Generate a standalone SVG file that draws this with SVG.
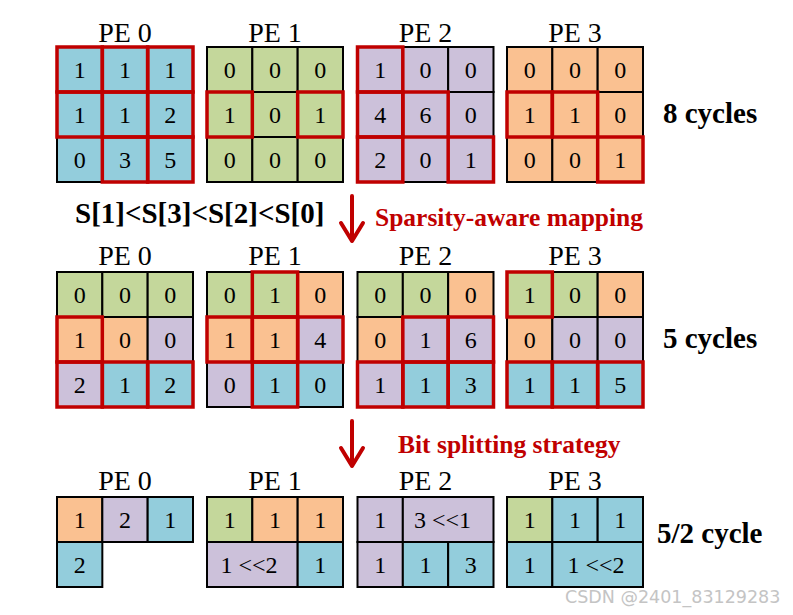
<svg xmlns="http://www.w3.org/2000/svg" width="793" height="615" viewBox="0 0 793 615">
<style>
.b{fill:#93CDDC}.g{fill:#C4D79B}.p{fill:#CCC1DA}.o{fill:#FAC191}
.cells rect{stroke:#000;stroke-width:2}
.r{fill:none;stroke:#C00000;stroke-width:3.5}
.n{font-family:"Liberation Serif","Times New Roman",serif;font-size:24px;text-anchor:middle;fill:#000}
.pe{font-family:"Liberation Serif","Times New Roman",serif;font-size:28px;text-anchor:middle;fill:#000}
.cy{font-family:"Liberation Serif","Times New Roman",serif;font-size:29px;font-weight:bold;fill:#000}
.rl{font-family:"Liberation Serif","Times New Roman",serif;font-size:25.5px;font-weight:bold;fill:#C00000}
.ar{fill:none;stroke:#C00000;stroke-width:4;stroke-linecap:round;stroke-linejoin:round}
.wm{font-family:"DejaVu Sans",sans-serif;font-size:17.5px;fill:#c4c4c4}
</style>
<rect width="793" height="615" fill="#fff"/>

<!-- Top row -->
<g id="top-pe0">
<text class="pe" x="125" y="42">PE 0</text>
<g class="cells">
<rect class="b" x="57" y="47" width="45.33" height="45"/><rect class="b" x="102.33" y="47" width="45.33" height="45"/><rect class="b" x="147.67" y="47" width="45.33" height="45"/>
<rect class="b" x="57" y="92" width="45.33" height="45"/><rect class="b" x="102.33" y="92" width="45.33" height="45"/><rect class="b" x="147.67" y="92" width="45.33" height="45"/>
<rect class="b" x="57" y="137" width="45.33" height="45"/><rect class="b" x="102.33" y="137" width="45.33" height="45"/><rect class="b" x="147.67" y="137" width="45.33" height="45"/>
</g>
<rect class="r" x="57" y="47" width="45.33" height="45"/><rect class="r" x="102.33" y="47" width="45.33" height="45"/><rect class="r" x="147.67" y="47" width="45.33" height="45"/>
<rect class="r" x="57" y="92" width="45.33" height="45"/><rect class="r" x="102.33" y="92" width="45.33" height="45"/><rect class="r" x="147.67" y="92" width="45.33" height="45"/>
<rect class="r" x="102.33" y="137" width="45.33" height="45"/><rect class="r" x="147.67" y="137" width="45.33" height="45"/>
<text class="n" x="79.7" y="78">1</text><text class="n" x="125" y="78">1</text><text class="n" x="170.3" y="78">1</text>
<text class="n" x="79.7" y="123">1</text><text class="n" x="125" y="123">1</text><text class="n" x="170.3" y="123">2</text>
<text class="n" x="79.7" y="168">0</text><text class="n" x="125" y="168">3</text><text class="n" x="170.3" y="168">5</text>
</g>

<g id="top-pe1">
<text class="pe" x="275" y="42">PE 1</text>
<g class="cells">
<rect class="g" x="207" y="47" width="45.33" height="45"/><rect class="g" x="252.33" y="47" width="45.33" height="45"/><rect class="g" x="297.67" y="47" width="45.33" height="45"/>
<rect class="g" x="207" y="92" width="45.33" height="45"/><rect class="g" x="252.33" y="92" width="45.33" height="45"/><rect class="g" x="297.67" y="92" width="45.33" height="45"/>
<rect class="g" x="207" y="137" width="45.33" height="45"/><rect class="g" x="252.33" y="137" width="45.33" height="45"/><rect class="g" x="297.67" y="137" width="45.33" height="45"/>
</g>
<rect class="r" x="207" y="92" width="45.33" height="45"/><rect class="r" x="297.67" y="92" width="45.33" height="45"/>
<text class="n" x="229.7" y="78">0</text><text class="n" x="275" y="78">0</text><text class="n" x="320.3" y="78">0</text>
<text class="n" x="229.7" y="123">1</text><text class="n" x="275" y="123">0</text><text class="n" x="320.3" y="123">1</text>
<text class="n" x="229.7" y="168">0</text><text class="n" x="275" y="168">0</text><text class="n" x="320.3" y="168">0</text>
</g>

<g id="top-pe2">
<text class="pe" x="425.5" y="42">PE 2</text>
<g class="cells">
<rect class="p" x="357.5" y="47" width="45.33" height="45"/><rect class="p" x="402.83" y="47" width="45.33" height="45"/><rect class="p" x="448.17" y="47" width="45.33" height="45"/>
<rect class="p" x="357.5" y="92" width="45.33" height="45"/><rect class="p" x="402.83" y="92" width="45.33" height="45"/><rect class="p" x="448.17" y="92" width="45.33" height="45"/>
<rect class="p" x="357.5" y="137" width="45.33" height="45"/><rect class="p" x="402.83" y="137" width="45.33" height="45"/><rect class="p" x="448.17" y="137" width="45.33" height="45"/>
</g>
<rect class="r" x="357.5" y="47" width="45.33" height="45"/><rect class="r" x="357.5" y="92" width="45.33" height="45"/><rect class="r" x="402.83" y="92" width="45.33" height="45"/>
<rect class="r" x="357.5" y="137" width="45.33" height="45"/><rect class="r" x="448.17" y="137" width="45.33" height="45"/>
<text class="n" x="380.2" y="78">1</text><text class="n" x="425.5" y="78">0</text><text class="n" x="470.8" y="78">0</text>
<text class="n" x="380.2" y="123">4</text><text class="n" x="425.5" y="123">6</text><text class="n" x="470.8" y="123">0</text>
<text class="n" x="380.2" y="168">2</text><text class="n" x="425.5" y="168">0</text><text class="n" x="470.8" y="168">1</text>
</g>

<g id="top-pe3">
<text class="pe" x="575" y="42">PE 3</text>
<g class="cells">
<rect class="o" x="507" y="47" width="45.33" height="45"/><rect class="o" x="552.33" y="47" width="45.33" height="45"/><rect class="o" x="597.67" y="47" width="45.33" height="45"/>
<rect class="o" x="507" y="92" width="45.33" height="45"/><rect class="o" x="552.33" y="92" width="45.33" height="45"/><rect class="o" x="597.67" y="92" width="45.33" height="45"/>
<rect class="o" x="507" y="137" width="45.33" height="45"/><rect class="o" x="552.33" y="137" width="45.33" height="45"/><rect class="o" x="597.67" y="137" width="45.33" height="45"/>
</g>
<rect class="r" x="507" y="92" width="45.33" height="45"/><rect class="r" x="552.33" y="92" width="45.33" height="45"/><rect class="r" x="597.67" y="137" width="45.33" height="45"/>
<text class="n" x="529.7" y="78">0</text><text class="n" x="575" y="78">0</text><text class="n" x="620.3" y="78">0</text>
<text class="n" x="529.7" y="123">1</text><text class="n" x="575" y="123">1</text><text class="n" x="620.3" y="123">0</text>
<text class="n" x="529.7" y="168">0</text><text class="n" x="575" y="168">0</text><text class="n" x="620.3" y="168">1</text>
</g>
<text class="cy" x="663" y="123">8 cycles</text>

<!-- Middle labels -->
<text class="cy" x="75" y="223">S[1]&lt;S[3]&lt;S[2]&lt;S[0]</text>
<text class="rl" x="375" y="226">Sparsity-aware mapping</text>

<!-- Middle row -->
<g id="mid-pe0">
<text class="pe" x="125" y="265">PE 0</text>
<g class="cells">
<rect class="g" x="57" y="272" width="45.33" height="45"/><rect class="g" x="102.33" y="272" width="45.33" height="45"/><rect class="g" x="147.67" y="272" width="45.33" height="45"/>
<rect class="o" x="57" y="317" width="45.33" height="45"/><rect class="o" x="102.33" y="317" width="45.33" height="45"/><rect class="p" x="147.67" y="317" width="45.33" height="45"/>
<rect class="p" x="57" y="362" width="45.33" height="45"/><rect class="b" x="102.33" y="362" width="45.33" height="45"/><rect class="b" x="147.67" y="362" width="45.33" height="45"/>
</g>
<rect class="r" x="57" y="317" width="45.33" height="45"/><rect class="r" x="57" y="362" width="45.33" height="45"/><rect class="r" x="102.33" y="362" width="45.33" height="45"/><rect class="r" x="147.67" y="362" width="45.33" height="45"/>
<text class="n" x="79.7" y="303">0</text><text class="n" x="125" y="303">0</text><text class="n" x="170.3" y="303">0</text>
<text class="n" x="79.7" y="348">1</text><text class="n" x="125" y="348">0</text><text class="n" x="170.3" y="348">0</text>
<text class="n" x="79.7" y="393">2</text><text class="n" x="125" y="393">1</text><text class="n" x="170.3" y="393">2</text>
</g>

<g id="mid-pe1">
<text class="pe" x="275" y="265">PE 1</text>
<g class="cells">
<rect class="g" x="207" y="272" width="45.33" height="45"/><rect class="g" x="252.33" y="272" width="45.33" height="45"/><rect class="o" x="297.67" y="272" width="45.33" height="45"/>
<rect class="o" x="207" y="317" width="45.33" height="45"/><rect class="o" x="252.33" y="317" width="45.33" height="45"/><rect class="p" x="297.67" y="317" width="45.33" height="45"/>
<rect class="p" x="207" y="362" width="45.33" height="45"/><rect class="b" x="252.33" y="362" width="45.33" height="45"/><rect class="b" x="297.67" y="362" width="45.33" height="45"/>
</g>
<rect class="r" x="252.33" y="272" width="45.33" height="45"/><rect class="r" x="207" y="317" width="45.33" height="45"/><rect class="r" x="252.33" y="317" width="45.33" height="45"/><rect class="r" x="297.67" y="317" width="45.33" height="45"/><rect class="r" x="252.33" y="362" width="45.33" height="45"/>
<text class="n" x="229.7" y="303">0</text><text class="n" x="275" y="303">1</text><text class="n" x="320.3" y="303">0</text>
<text class="n" x="229.7" y="348">1</text><text class="n" x="275" y="348">1</text><text class="n" x="320.3" y="348">4</text>
<text class="n" x="229.7" y="393">0</text><text class="n" x="275" y="393">1</text><text class="n" x="320.3" y="393">0</text>
</g>

<g id="mid-pe2">
<text class="pe" x="425.5" y="265">PE 2</text>
<g class="cells">
<rect class="g" x="357.5" y="272" width="45.33" height="45"/><rect class="g" x="402.83" y="272" width="45.33" height="45"/><rect class="o" x="448.17" y="272" width="45.33" height="45"/>
<rect class="o" x="357.5" y="317" width="45.33" height="45"/><rect class="p" x="402.83" y="317" width="45.33" height="45"/><rect class="p" x="448.17" y="317" width="45.33" height="45"/>
<rect class="p" x="357.5" y="362" width="45.33" height="45"/><rect class="b" x="402.83" y="362" width="45.33" height="45"/><rect class="b" x="448.17" y="362" width="45.33" height="45"/>
</g>
<rect class="r" x="402.83" y="317" width="45.33" height="45"/><rect class="r" x="448.17" y="317" width="45.33" height="45"/><rect class="r" x="357.5" y="362" width="45.33" height="45"/><rect class="r" x="402.83" y="362" width="45.33" height="45"/><rect class="r" x="448.17" y="362" width="45.33" height="45"/>
<text class="n" x="380.2" y="303">0</text><text class="n" x="425.5" y="303">0</text><text class="n" x="470.8" y="303">0</text>
<text class="n" x="380.2" y="348">0</text><text class="n" x="425.5" y="348">1</text><text class="n" x="470.8" y="348">6</text>
<text class="n" x="380.2" y="393">1</text><text class="n" x="425.5" y="393">1</text><text class="n" x="470.8" y="393">3</text>
</g>

<g id="mid-pe3">
<text class="pe" x="575" y="265">PE 3</text>
<g class="cells">
<rect class="g" x="507" y="272" width="45.33" height="45"/><rect class="g" x="552.33" y="272" width="45.33" height="45"/><rect class="o" x="597.67" y="272" width="45.33" height="45"/>
<rect class="o" x="507" y="317" width="45.33" height="45"/><rect class="p" x="552.33" y="317" width="45.33" height="45"/><rect class="p" x="597.67" y="317" width="45.33" height="45"/>
<rect class="b" x="507" y="362" width="45.33" height="45"/><rect class="b" x="552.33" y="362" width="45.33" height="45"/><rect class="b" x="597.67" y="362" width="45.33" height="45"/>
</g>
<rect class="r" x="507" y="272" width="45.33" height="45"/><rect class="r" x="507" y="362" width="45.33" height="45"/><rect class="r" x="552.33" y="362" width="45.33" height="45"/><rect class="r" x="597.67" y="362" width="45.33" height="45"/>
<text class="n" x="529.7" y="303">1</text><text class="n" x="575" y="303">0</text><text class="n" x="620.3" y="303">0</text>
<text class="n" x="529.7" y="348">0</text><text class="n" x="575" y="348">0</text><text class="n" x="620.3" y="348">0</text>
<text class="n" x="529.7" y="393">1</text><text class="n" x="575" y="393">1</text><text class="n" x="620.3" y="393">5</text>
</g>
<text class="cy" x="663" y="348">5 cycles</text>

<text class="rl" x="398" y="453">Bit splitting strategy</text>

<!-- Bottom row -->
<g id="bot-pe0">
<text class="pe" x="125" y="490">PE 0</text>
<g class="cells">
<rect class="o" x="57" y="497" width="45.33" height="45"/><rect class="p" x="102.33" y="497" width="45.33" height="45"/><rect class="b" x="147.67" y="497" width="45.33" height="45"/>
<rect class="b" x="57" y="542" width="45.33" height="45"/>
</g>
<text class="n" x="79.7" y="528">1</text><text class="n" x="125" y="528">2</text><text class="n" x="170.3" y="528">1</text>
<text class="n" x="79.7" y="573">2</text>
</g>

<g id="bot-pe1">
<text class="pe" x="275" y="490">PE 1</text>
<g class="cells">
<rect class="g" x="207" y="497" width="45.33" height="45"/><rect class="o" x="252.33" y="497" width="45.33" height="45"/><rect class="o" x="297.67" y="497" width="45.33" height="45"/>
<rect class="p" x="207" y="542" width="90.67" height="45"/><rect class="b" x="297.67" y="542" width="45.33" height="45"/>
</g>
<text class="n" x="229.7" y="528">1</text><text class="n" x="275" y="528">1</text><text class="n" x="320.3" y="528">1</text>
<text class="n" x="249" y="573">1 &lt;&lt;2</text><text class="n" x="320.3" y="573">1</text>
</g>

<g id="bot-pe2">
<text class="pe" x="425.5" y="490">PE 2</text>
<g class="cells">
<rect class="p" x="357.5" y="497" width="45.33" height="45"/><rect class="p" x="402.83" y="497" width="90.67" height="45"/>
<rect class="p" x="357.5" y="542" width="45.33" height="45"/><rect class="b" x="402.83" y="542" width="45.33" height="45"/><rect class="b" x="448.17" y="542" width="45.33" height="45"/>
</g>
<text class="n" x="380.2" y="528">1</text><text class="n" x="442.5" y="528">3 &lt;&lt;1</text>
<text class="n" x="380.2" y="573">1</text><text class="n" x="425.5" y="573">1</text><text class="n" x="470.8" y="573">3</text>
</g>

<g id="bot-pe3">
<text class="pe" x="575" y="490">PE 3</text>
<g class="cells">
<rect class="g" x="507" y="497" width="45.33" height="45"/><rect class="b" x="552.33" y="497" width="45.33" height="45"/><rect class="b" x="597.67" y="497" width="45.33" height="45"/>
<rect class="b" x="507" y="542" width="45.33" height="45"/><rect class="b" x="552.33" y="542" width="90.67" height="45"/>
</g>
<text class="n" x="529.7" y="528">1</text><text class="n" x="575" y="528">1</text><text class="n" x="620.3" y="528">1</text>
<text class="n" x="529.7" y="573">1</text><text class="n" x="596" y="573">1 &lt;&lt;2</text>
</g>
<text class="cy" x="657" y="543">5/2 cycle</text>

<g id="connectors">
<path class="ar" d="M352 196 V241 M341 223 L352 241 L363 223"/>
<path class="ar" d="M352 421 V466 M341 448 L352 466 L363 448"/>
</g>

<text class="wm" x="565" y="603">CSDN @2401_83129283</text>
</svg>
